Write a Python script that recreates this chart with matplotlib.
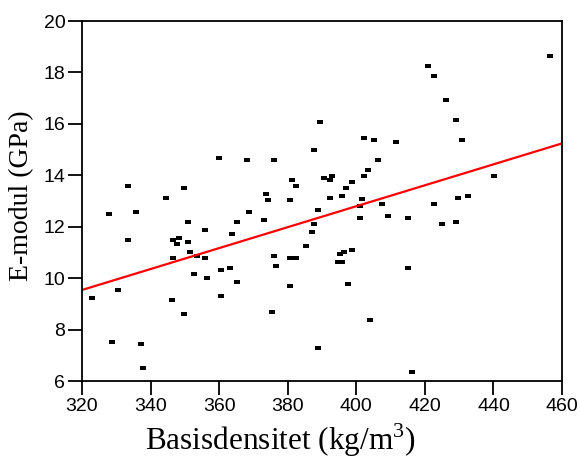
import numpy as np
import matplotlib
matplotlib.use("Agg")
import matplotlib.pyplot as plt

plt.rcParams['mathtext.fontset'] = 'custom'
plt.rcParams['mathtext.rm'] = 'Liberation Serif'

# Basisdensitet (kg/m3) og E-modul (GPa), lest av figuren
densitet = [322.9, 328.0, 328.7, 330.4, 333.3, 333.3, 335.7, 337.3, 337.9, 344.4,
            346.6, 346.2, 346.6, 347.8, 348.4, 349.7, 349.7, 350.8, 350.8, 351.4,
            352.6, 353.6, 356.0, 356.0, 356.6, 360.0, 360.6, 360.6, 363.1, 363.7,
            365.3, 365.3, 368.2, 368.7, 373.0, 373.6, 374.2, 375.3, 375.9, 375.9,
            376.5, 380.6, 380.6, 380.6, 381.2, 382.3, 382.3, 385.2, 387.0, 387.6,
            387.6, 388.7, 388.7, 389.3, 390.5, 392.2, 392.2, 392.8, 394.6, 395.2,
            395.7, 395.7, 396.3, 396.9, 397.5, 398.6, 398.7, 401.0, 401.0, 401.6,
            402.2, 402.2, 403.3, 403.9, 405.1, 406.2, 407.4, 409.2, 411.5, 415.0,
            415.0, 416.1, 420.8, 422.6, 422.6, 424.9, 426.1, 429.0, 429.0, 429.6,
            430.7, 432.5, 440.1, 456.4]
emodul = [9.23, 12.49, 7.52, 9.54, 13.58, 11.48, 12.57, 7.44, 6.51, 13.10,
          11.48, 9.15, 10.78, 11.33, 11.56, 13.50, 8.61, 12.18, 11.41, 11.02,
          10.16, 10.86, 11.87, 10.78, 10.01, 14.67, 10.32, 9.31, 10.39, 11.72,
          12.18, 9.85, 14.60, 12.57, 12.26, 13.27, 13.05, 8.68, 14.59, 10.86,
          10.47, 13.05, 10.78, 9.69, 13.82, 13.58, 10.78, 11.25, 11.79, 12.11,
          14.98, 12.65, 7.28, 16.07, 13.89, 13.82, 13.12, 13.97, 10.63, 10.94,
          10.63, 13.19, 11.02, 13.51, 9.77, 13.74, 11.09, 12.81, 12.34, 13.07,
          13.97, 15.45, 14.21, 8.37, 15.37, 14.59, 12.88, 12.42, 15.29, 12.34,
          10.39, 6.35, 18.25, 17.86, 12.88, 12.11, 16.93, 16.15, 12.18, 13.12,
          15.37, 13.19, 13.97, 18.64]

# regresjonslinje lest av figuren (verdi ved 320 og 460)
linje_x = [320, 460]
linje_y = [9.54, 15.24]

xticks = [320, 340, 360, 380, 400, 420, 440, 460]
yticks = [6, 8, 10, 12, 14, 16, 18, 20]

fig = plt.figure(figsize=(5.8, 4.63), dpi=100)
ax = fig.add_axes([0.1414, 0.1771, 0.8276, 0.7775])

# små liggende rektangler som markører
rekt = [(-1, -0.6), (1, -0.6), (1, 0.6), (-1, 0.6), (-1, -0.6)]
ax.plot(densitet, emodul, linestyle='none', marker=rekt, markersize=4,
        color='black', markeredgewidth=0)
ax.plot(linje_x, linje_y, color='red', linewidth=1.6)

ax.set_xlim(320, 460)
ax.set_ylim(6, 20)
ax.set_xticks(xticks)
ax.set_yticks(yticks)
ax.tick_params(direction='out', length=10, width=1.3, labelsize=14,
               top=False, right=False, pad=2)
for lab in ax.get_xticklabels() + ax.get_yticklabels():
    lab.set_family('Liberation Sans')
for s in ax.spines.values():
    s.set_linewidth(1.3)

ax.set_xlabel(r'Basisdensitet (kg/m$^3$)', family='Liberation Serif',
              fontsize=22.5, labelpad=5, x=0.4125)
ax.set_ylabel('E-modul (GPa)', family='Liberation Serif', fontsize=20,
              labelpad=7, y=0.514)

fig.savefig('out.png', dpi=100, facecolor='white')
